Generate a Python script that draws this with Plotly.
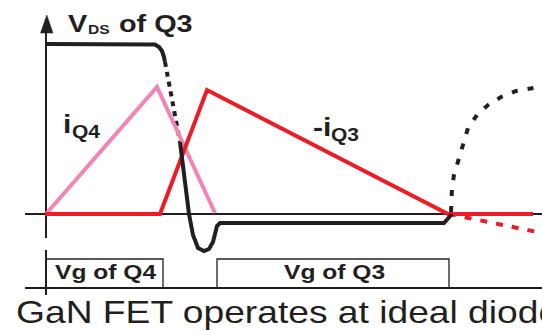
import plotly.graph_objects as go

# ---- waveform data (time in arbitrary units, amplitude with 0 = current/voltage zero) ----
# V_DS of Q3: on-state plateau, turn-off edge (dotted), diode dip and conduction, re-rise (dotted)
vds_high_t = [46, 150, 155, 159, 162, 164, 165]
vds_high_v = [170, 170, 169.5, 167, 163, 157, 152]
vds_fall_t = [165, 170, 175, 180]
vds_fall_v = [152, 126, 100, 72]
vds_low_t = [180, 183, 186, 189, 193, 198, 204, 209, 213, 216, 217, 220, 444, 452]
vds_low_v = [72, 49, 24, 0, -21, -34, -37, -35, -28, -18, -12, -9, -9, 0]
vds_rise_t = [451, 451, 452, 454, 457, 460, 463, 468, 477, 488, 501, 516, 534]
vds_rise_v = [2, 14, 26, 39, 49, 62, 71, 86, 99, 109, 117, 123, 126]

# Current of Q4 (pink) and negative current of Q3 (red)
iq4_t = [46, 157, 215]
iq4_v = [0, 127, 1]
iq3_t = [45, 160, 207, 448, 533]
iq3_v = [0, 0, 124, 0, 0]
iq3_ext_t = [449, 542]
iq3_ext_v = [0, -19]

# Gate drive pulses
GATE_LOW, GATE_HIGH = -74, -45
vg_q4_t = [46, 46, 163, 163]
vg_q4_v = [GATE_LOW, GATE_HIGH, GATE_HIGH, GATE_LOW]
vg_q3_t = [217, 217, 449, 449]
vg_q3_v = [GATE_LOW, GATE_HIGH, GATE_HIGH, GATE_LOW]

# Frame: vertical axis (broken), zero line, gate baseline, arrow head
axis_t = [46, 46, None, 46, 46]
axis_v = [182, -24, None, -36, -81]
zero_t = [25, 542]
zero_v = [0, 0]
gate_base_t = [25, 542]
gate_base_v = [GATE_LOW, GATE_LOW]
arrow_t = [46.8, 40.5, 53.0, 46.8]
arrow_v = [199, 181, 181, 199]

# Text labels
labels = [
    # text, x, y, size, weight
    ("V", 68, 190.5, 24, "bold"),
    ("DS", 88, 185, 13, "bold"),
    ("of Q3", 119, 190.5, 24, "bold"),
    ("i", 63, 90, 25, "bold"),
    ("Q4", 72, 82.5, 17.5, "bold"),
    ("-i", 313, 87.5, 25, "bold"),
    ("Q3", 331, 79, 17.5, "bold"),
    ("Vg of Q4", 55, -57, 20.5, "bold"),
    ("Vg of Q3", 284, -57, 20.5, "bold"),
    ("GaN FET operates at ideal diode", 16, -98.3, 31, "normal"),
]

BLACK = "#231F20"
RED = "#ED1C24"
PINK = "#F285B5"
FONT = "Liberation Sans, Arial, sans-serif"
TEXT_STRETCH = 1.2

fig = go.Figure()


def line(t, v, color, width, dash="solid", fill=None):
    fig.add_trace(go.Scatter(
        x=t, y=v, mode="lines",
        line=dict(color=color, width=width, dash=dash),
        fill=fill, fillcolor=color if fill else None,
        hoverinfo="skip", showlegend=False,
    ))


# frame
line(zero_t, zero_v, BLACK, 2)
line(gate_base_t, gate_base_v, BLACK, 2)
line(axis_t, axis_v, BLACK, 2)
line(arrow_t, arrow_v, BLACK, 0.5, fill="toself")
line(vg_q4_t, vg_q4_v, BLACK, 1.3)
line(vg_q3_t, vg_q3_v, BLACK, 1.3)

# waveforms
line(vds_fall_t, vds_fall_v, BLACK, 4, dash="5px,5px")
line(iq4_t, iq4_v, PINK, 4)
line(iq3_ext_t, iq3_ext_v, RED, 4, dash="7px,9px")
line(iq3_t, iq3_v, RED, 4)
line(vds_high_t, vds_high_v, BLACK, 4)
line(vds_low_t, vds_low_v, BLACK, 4)
line(vds_rise_t, vds_rise_v, BLACK, 4, dash="6px,10px")

for text, x, y, size, weight in labels:
    fig.add_annotation(
        x=x, y=y, xref="x", yref="y", text=text, showarrow=False,
        xanchor="left", yanchor="middle", borderpad=0, borderwidth=0,
        font=dict(family=FONT, size=size, color=BLACK, weight=weight),
    )

fig.update_layout(
    width=542, height=331, autosize=False,
    margin=dict(l=0, r=0, t=0, b=0),
    paper_bgcolor="white", plot_bgcolor="white",
    xaxis=dict(range=[0, 542], visible=False, fixedrange=True),
    yaxis=dict(range=[-117, 214], visible=False, fixedrange=True),
)

# widen the label glyphs horizontally about their left edges
stretch_js = """
var gd = document.getElementById('{plot_id}');
gd.querySelectorAll('text.annotation-text').forEach(function (t) {
  var b = t.getBBox();
  t.setAttribute('transform',
    'translate(' + b.x + ',0) scale(%s,1) translate(' + (-b.x) + ',0)');
});
""" % TEXT_STRETCH

fig.write_html("out.html", config={"displayModeBar": False, "staticPlot": True},
               post_script=stretch_js)
